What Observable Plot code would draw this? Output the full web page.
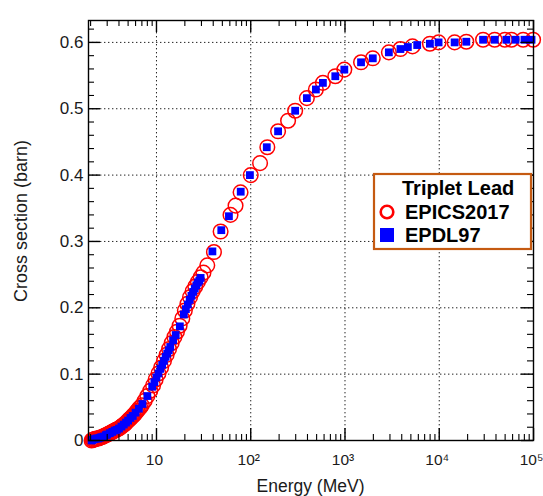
<!DOCTYPE html>
<html><head><meta charset="utf-8">
<script src="https://cdn.jsdelivr.net/npm/d3@7"></script>
<script src="https://cdn.jsdelivr.net/npm/@observablehq/plot@0.6"></script>
<style>
body{margin:0;background:#fff;}
#wrap{position:relative;width:543px;height:496px;overflow:hidden;}
#overlay{position:absolute;left:0;top:0;pointer-events:none;}
</style></head><body><div id="wrap"></div>
<script>
// EPICS2017 (red open circles)
const epicsEnergy = [2.05,2.1,2.15,2.2,2.25,2.3,2.35,2.42,2.5,2.58,2.65,2.72,2.8,2.9,3.0,3.1,3.2,3.3,3.4,3.5,3.6,3.72,3.85,3.97,4.1,4.25,4.4,4.55,4.7,4.85,5.0,5.17,5.35,5.52,5.7,5.9,6.1,6.3,6.5,6.75,7.0,7.5,8.0,8.6,9.2,9.8,10.5,11.2,12,12.8,13.6,14.5,15.5,16.5,17.6,18.8,20,21.3,22.7,24.2,25.8,27.5,29.4,31.5,34.6,40.7,47.9,61,69,78,100,125.6,150,195,249,296,394,491,583,789,984,1480,1972,2920,3875,5200,7960,9840,14560,19380,29170,38740,49700,58400,77700,99000];
const epicsXS = [0.000,0.001,0.001,0.002,0.002,0.003,0.003,0.003,0.004,0.005,0.005,0.006,0.007,0.008,0.009,0.010,0.011,0.012,0.013,0.014,0.015,0.016,0.017,0.018,0.019,0.021,0.023,0.024,0.026,0.028,0.030,0.032,0.034,0.036,0.038,0.040,0.043,0.045,0.048,0.050,0.053,0.060,0.067,0.075,0.083,0.092,0.101,0.110,0.120,0.129,0.138,0.147,0.156,0.164,0.173,0.184,0.196,0.206,0.216,0.225,0.232,0.239,0.246,0.253,0.264,0.284,0.315,0.340,0.354,0.374,0.400,0.418,0.442,0.466,0.482,0.497,0.516,0.529,0.539,0.549,0.559,0.570,0.576,0.585,0.590,0.594,0.598,0.600,0.600,0.601,0.604,0.604,0.604,0.604,0.604,0.604];
// EPDL97 (blue squares)
const epdlEnergy = [2.05,2.1,2.2,2.3,2.4,2.5,2.6,2.75,2.9,3.0,3.2,3.4,3.6,3.8,4.0,4.25,4.5,4.75,5.0,5.3,5.6,6.0,6.5,7.1,8.0,9.0,9.5,10,10.5,11,11.5,12,12.5,13,13.5,14,15,16,17.7,19.5,20.5,21.5,22.5,23.5,24.5,25.5,26.5,27.5,28.5,29.4,39.2,48.7,58.7,78.3,98,148,195,296,394,491,583,789,984,1480,1972,2920,3875,4645,5835,7960,9840,14560,19380,29170,38740,51600,64500,80200,95300];
const epdlXS = [0.000,0.001,0.002,0.003,0.003,0.004,0.005,0.006,0.008,0.009,0.011,0.013,0.015,0.016,0.018,0.021,0.024,0.027,0.030,0.034,0.037,0.042,0.048,0.055,0.067,0.081,0.088,0.095,0.101,0.108,0.114,0.120,0.126,0.131,0.136,0.141,0.151,0.159,0.172,0.190,0.198,0.205,0.212,0.218,0.224,0.229,0.234,0.238,0.241,0.245,0.285,0.317,0.338,0.375,0.400,0.442,0.466,0.497,0.516,0.529,0.539,0.549,0.559,0.570,0.576,0.585,0.590,0.593,0.596,0.598,0.600,0.600,0.601,0.604,0.604,0.604,0.604,0.604,0.604];

const xTickValues = [10,100,1000,10000,100000];
const xTickLabels = ["10","10²","10³","10⁴","10⁵"];
const yTickValues = [0,0.1,0.2,0.3,0.4,0.5,0.6];
const yTickLabels = ["0","0.1","0.2","0.3","0.4","0.5","0.6"];
const xGrid = [10,100,1000,10000];
const yGrid = [0.1,0.2,0.3,0.4,0.5,0.6];
const legendTitle = "Triplet Lead";
const seriesNames = ["EPICS2017","EPDL97"];
const xTitle = "Energy (MeV)";
const yTitle = "Cross section (barn)";

const epics = epicsEnergy.map((e,i)=>({e, v: epicsXS[i]}));
const epdl = epdlEnergy.map((e,i)=>({e, v: epdlXS[i]}));
const xTicks = xTickValues.map((v,i)=>({v, label: xTickLabels[i]}));

const xMinor = [];
for (let dec = 1; dec <= 10000; dec *= 10) for (let m = 2; m <= 9; m++) xMinor.push(m*dec);
const yMinor = d3.range(1, 32).map(i => +(i*0.02).toFixed(2)).filter(v => Math.abs(v*10 - Math.round(v*10)) > 1e-6);

const W = 543, H = 496, mL = 88, mR = 10, mT = 20, mB = 56;
const iW = W - mL - mR, iH = H - mT - mB;
const majLen = 12, minLen = 6;

const chart = Plot.plot({
  width: W, height: H,
  marginLeft: mL, marginRight: mR, marginTop: mT, marginBottom: mB,
  style: {fontFamily: "'Liberation Sans', Arial, sans-serif", fontSize: "17px", color: "#1a1a1a", background: "white"},
  x: {type: "log", domain: [1.9, 1e5], axis: null},
  y: {domain: [0, 0.633], ticks: yTickValues, tickSize: 0, tickPadding: 5,
      tickFormat: d => yTickLabels[yTickValues.findIndex(t => Math.abs(t - d) < 1e-9)], label: null},
  marks: [
    Plot.ruleX(xGrid, {x: d => d, stroke: "#222", strokeWidth: 1, strokeDasharray: "1.4,2.6"}),
    Plot.ruleY(yGrid, {y: d => d, stroke: "#222", strokeWidth: 1, strokeDasharray: "1.4,2.6"}),
    Plot.dot(epics, {x: "e", y: "v", r: 7.3, stroke: "#ff0000", strokeWidth: 1.5, fill: "none"}),
    Plot.dot(epdl, {x: "e", y: "v", r: 4.4, symbol: "square", fill: "#0000ff", stroke: "none"}),
    // x tick labels (through the x scale)
    Plot.text(xTicks, {x: "v", text: "label", frameAnchor: "bottom", dy: 20, dx: -2,
      fontSize: 15.5, lineAnchor: "middle", fill: "#1a1a1a"}),
    // ticks, inward on all four sides
    Plot.ruleX(xTickValues, {x: d => d, insetTop: iH - majLen, stroke: "#000", strokeWidth: 1.4}),
    Plot.ruleX(xTickValues, {x: d => d, insetBottom: iH - majLen, stroke: "#000", strokeWidth: 1.4}),
    Plot.ruleX(xMinor, {x: d => d, insetTop: iH - minLen, stroke: "#000", strokeWidth: 1.1}),
    Plot.ruleX(xMinor, {x: d => d, insetBottom: iH - minLen, stroke: "#000", strokeWidth: 1.1}),
    Plot.ruleY(yTickValues, {y: d => d, insetRight: iW - majLen, stroke: "#000", strokeWidth: 1.4}),
    Plot.ruleY(yTickValues, {y: d => d, insetLeft: iW - majLen, stroke: "#000", strokeWidth: 1.4}),
    Plot.ruleY(yMinor, {y: d => d, insetRight: iW - minLen, stroke: "#000", strokeWidth: 1.1}),
    Plot.ruleY(yMinor, {y: d => d, insetLeft: iW - minLen, stroke: "#000", strokeWidth: 1.1}),
    Plot.frame({stroke: "#000", strokeWidth: 1.4})
  ]
});
const wrap = document.getElementById("wrap");
wrap.appendChild(chart);

// overlay: axis titles + legend
const ov = d3.select(wrap).append("svg").attr("id","overlay").attr("width", W).attr("height", H)
  .attr("font-family", "'Liberation Sans', Arial, sans-serif");
ov.append("text").attr("x", mL + iW/2).attr("y", 492).attr("text-anchor","middle")
  .attr("font-size", 17.5).attr("fill", "#1a1a1a").text(xTitle);
ov.append("text").attr("transform", "translate(27,221) rotate(-90)").attr("text-anchor","middle")
  .attr("font-size", 18).attr("fill", "#1a1a1a").text(yTitle);

const lg = ov.append("g").attr("transform", "translate(373,173)");
lg.append("rect").attr("x",1).attr("y",1).attr("width",157).attr("height",75)
  .attr("fill","#fff").attr("stroke","#c55a11").attr("stroke-width",2.2);
const lf = {"font-weight":"bold","font-size":20,"fill":"#000"};
const t1 = lg.append("text").attr("x",29).attr("y",22).text(legendTitle);
const t2 = lg.append("text").attr("x",32).attr("y",46).text(seriesNames[0]);
const t3 = lg.append("text").attr("x",32).attr("y",69).text(seriesNames[1]);
[t1,t2,t3].forEach(t => Object.entries(lf).forEach(([k,v]) => t.attr(k,v)));
lg.append("circle").attr("cx",14).attr("cy",39).attr("r",6.3).attr("fill","none")
  .attr("stroke","#ff0000").attr("stroke-width",2.6);
lg.append("rect").attr("x",7).attr("y",55).attr("width",14).attr("height",14).attr("fill","#0000ff");
</script></body></html>
